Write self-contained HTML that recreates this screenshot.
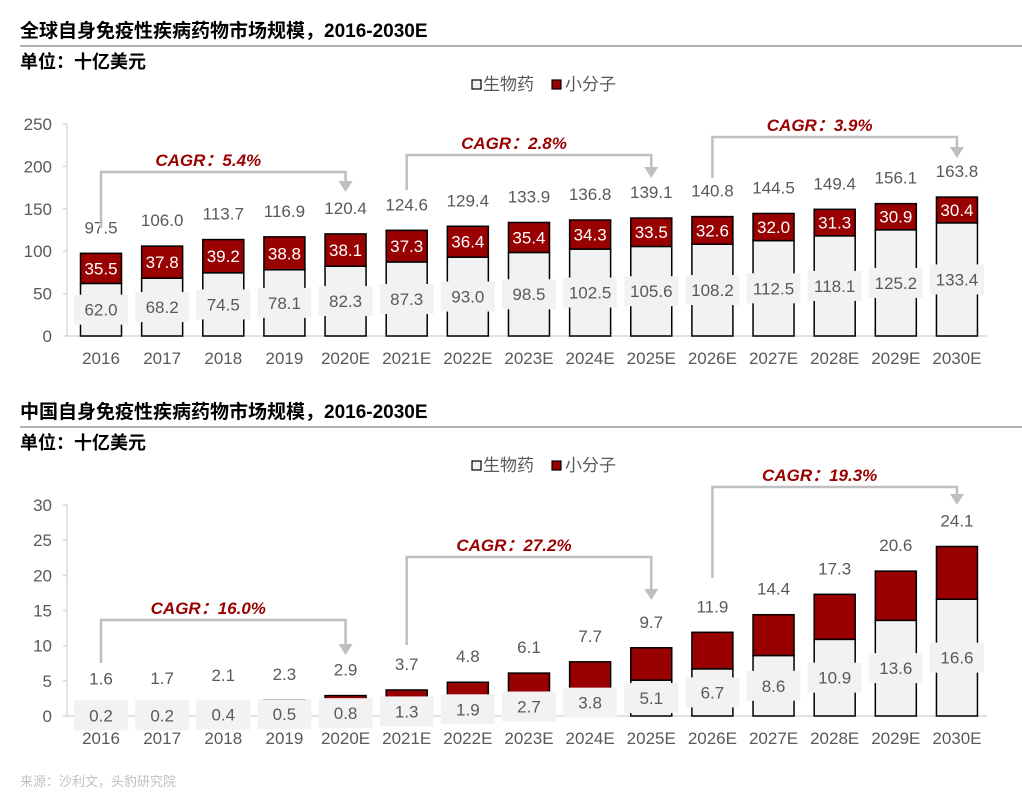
<!DOCTYPE html>
<html><head><meta charset="utf-8">
<style>
body{margin:0;background:#fff;width:1022px;height:804px;overflow:hidden;font-family:"Liberation Sans","Noto Sans CJK SC",sans-serif;}
svg{position:absolute;left:0;top:0}
</style></head>
<body>
<svg id="s" width="1022" height="804" xmlns="http://www.w3.org/2000/svg"></svg>
<script>
const categories=["2016","2017","2018","2019","2020E","2021E","2022E","2023E","2024E","2025E","2026E","2027E","2028E","2029E","2030E"];
const globalBio=[62.0,68.2,74.5,78.1,82.3,87.3,93.0,98.5,102.5,105.6,108.2,112.5,118.1,125.2,133.4];
const globalSmall=[35.5,37.8,39.2,38.8,38.1,37.3,36.4,35.4,34.3,33.5,32.6,32.0,31.3,30.9,30.4];
const globalTicks=[0,50,100,150,200,250];
const chinaBio=[0.2,0.2,0.4,0.5,0.8,1.3,1.9,2.7,3.8,5.1,6.7,8.6,10.9,13.6,16.6];
const chinaSmall=[1.4,1.5,1.7,1.8,2.1,2.4,2.9,3.4,3.9,4.6,5.2,5.8,6.4,7.0,7.5];
const chinaTicks=[0,5,10,15,20,25,30];
const globalCagr=["CAGR：5.4%","CAGR：2.8%","CAGR：3.9%"];
const chinaCagr=["CAGR：16.0%","CAGR：27.2%","CAGR：19.3%"];

const S=document.getElementById('s');const NS="http://www.w3.org/2000/svg";
function mk(t,a,txt){const e=document.createElementNS(NS,t);for(const k in a)e.setAttribute(k,a[k]);if(txt!==undefined)e.textContent=txt;S.appendChild(e);return e;}
const fmt=v=>v.toFixed(1);
const xc=i=>101+i*61.14;

function header(y,title){
  let t=mk('text',{x:20,y:y,'font-size':19,'font-weight':'bold',fill:'#000'},title);
  
  let l=mk('line',{x1:20,x2:1022,y1:y+9,y2:y+9,stroke:'#999','stroke-width':1.5});
  
  let u=mk('text',{x:20,y:y+31,'font-size':18,'font-weight':'bold',fill:'#000'},'单位：十亿美元');
  
  let ly=y+53;
  let r1=mk('rect',{x:472,y:ly-10,width:9,height:9,fill:'#f2f2f2',stroke:'#000','stroke-width':1.2});
  
  let t1=mk('text',{x:483,y:ly,'font-size':17,fill:'#595959'},'生物药');
  
  let r2=mk('rect',{x:552,y:ly-10,width:9,height:9,fill:'#990000',stroke:'#000','stroke-width':1.2});
  
  let t2=mk('text',{x:565,y:ly,'font-size':17,fill:'#595959'},'小分子');
  
}

function chart(y0,ymax,pxTop,bio,small,ticks,cagr,showSmallLabels,brackets){
  const yv=v=>y0-v*(y0-pxTop)/ymax;
  let ax=mk('line',{x1:67,x2:67,y1:pxTop,y2:y0,stroke:'#d9d9d9','stroke-width':1.5});
  
  ticks.forEach(t=>{
    let tl=mk('line',{x1:63,x2:67,y1:yv(t),y2:yv(t),stroke:'#d9d9d9','stroke-width':1.5});
    
    let tx=mk('text',{x:52,y:yv(t)+6,'font-size':17,fill:'#595959','text-anchor':'end'},String(t));
    
  });
  let xa=mk('line',{x1:67,x2:987,y1:y0,y2:y0,stroke:'#d9d9d9','stroke-width':1.5});
  
  categories.forEach((c,i)=>{
    const x=xc(i),w=41,tot=bio[i]+small[i];
    const yb=yv(bio[i]),yt=yv(tot);
    let b=mk('rect',{x:x-w/2,y:yb,width:w,height:y0-yb,fill:'#f2f2f2',stroke:'#000','stroke-width':1.5});
    
    let r=mk('rect',{x:x-w/2,y:yt,width:w,height:yb-yt,fill:'#990000',stroke:'#000','stroke-width':1.5});
    
    const cy=(y0+yb)/2;
    let bx=mk('rect',{x:x-27,y:cy-15,width:54,height:30,fill:'#f2f2f2'});
    
    let bl=mk('text',{x:x,y:cy+6,'font-size':17,fill:'#595959','text-anchor':'middle'},fmt(bio[i]));
    
    if(showSmallLabels){
      let sl=mk('text',{x:x,y:(yb+yt)/2+6,'font-size':17,fill:'#fff','text-anchor':'middle'},fmt(small[i]));
      
    }
    let tl=mk('text',{x:x,y:yt-20,'font-size':17,fill:'#595959','text-anchor':'middle'},fmt(tot));
    
    let xl=mk('text',{x:x,y:y0+28,'font-size':17,fill:'#595959','text-anchor':'middle'},c);
    
  });
  brackets.forEach((b,k)=>{
    const xa_=xc(b[0]),xb=xc(b[1]);
    let p=mk('path',{d:`M${xa_} ${b[2]} V${b[3]} H${xb} V${b[4]-10}`,fill:'none',stroke:'#bfbfbf','stroke-width':2.5});
    
    let a=mk('path',{d:`M${xb-7} ${b[4]-11} L${xb+7} ${b[4]-11} L${xb} ${b[4]}Z`,fill:'#bfbfbf'});
    
    let t=mk('text',{x:(xa_+xb)/2-15,y:b[3]-6,'font-size':17,'font-weight':'bold','font-style':'italic',fill:'#990000','text-anchor':'middle'},cagr[k]);
    
  });
}

header(37,'全球自身免疫性疾病药物市场规模，2016-2030E');
chart(336,250,124,globalBio,globalSmall,globalTicks,globalCagr,true,[[0,4,228,172,192],[5,9,190,155,178],[10,14,178,137,158]]);
header(418,'中国自身免疫性疾病药物市场规模，2016-2030E');
chart(716,30,505,chinaBio,chinaSmall,chinaTicks,chinaCagr,false,[[0,4,663,620,655],[5,9,645,557,600],[10,14,578,487,505]]);
let src=mk('text',{x:20,y:786,'font-size':13,fill:'#bfbfbf'},'来源：沙利文，头豹研究院');

</script>
</body></html>
